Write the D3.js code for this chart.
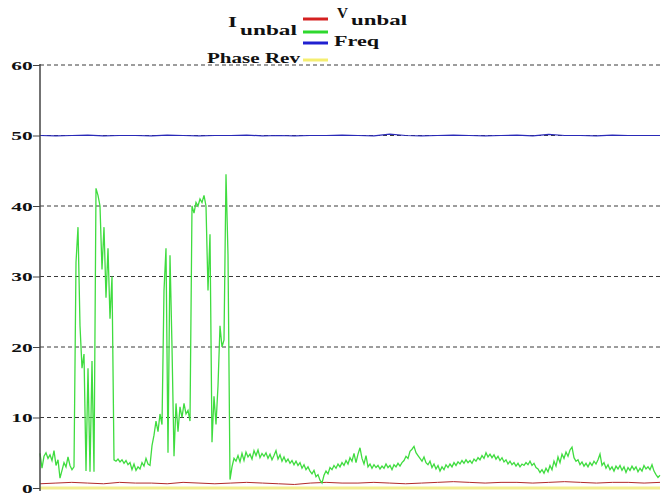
<!DOCTYPE html>
<html>
<head>
<meta charset="utf-8">
<script src="https://cdn.jsdelivr.net/npm/d3@7"></script>
<style>
  body { margin: 0; background: #fff; }
  text { font-family: "Liberation Serif", "DejaVu Serif", serif; font-weight: bold; }
</style>
</head>
<body>
<div id="chart-area"></div>
<script>
// Frequency trace (green), one reading every step
var freq = [
  4.9, 2.8, 4.5, 5.0, 4.2, 4.7, 3.9, 5.3, 3.2, 4.0,
  1.4, 2.5, 3.6, 3.0, 4.4, 3.2, 2.6, 3.0, 32, 37,
  23, 17, 19, 2.4, 17, 2.3, 18, 2.3, 42.5, 41.5,
  40, 31, 37, 27, 34, 24, 30, 4.0, 3.8, 4.1,
  3.7, 4.0, 3.5, 3.9, 3.3, 3.6, 2.6, 3.4, 2.5, 3.0,
  2.7, 3.6, 3.1, 4.2, 3.4, 3.2, 6, 7.5, 9.5, 8,
  10.5, 9, 28, 34, 5, 33, 20, 4.5, 12, 8,
  11.5, 10, 12, 10.5, 11, 9.5, 40, 39, 40.5, 40,
  41, 40.5, 41.5, 40, 28, 36, 6.5, 13, 9, 14.5,
  23, 20, 21, 44.5, 33, 1.2, 3.0, 4.2, 3.8, 4.6,
  3.7, 4.9, 3.9, 5.1, 4.4, 4.8, 4.1, 5.3, 4.6, 5.4,
  4.3, 4.9, 4.5, 5.0, 4.2, 4.8, 4.0, 4.6, 5.3, 4.1,
  4.7, 3.8, 4.4, 3.7, 4.1, 3.5, 3.9, 3.3, 3.8, 3.2,
  3.6, 2.8, 3.3, 2.6, 3.0, 2.4, 2.0, 2.5, 1.6, 1.9,
  1.1, 0.7, 1.8, 2.4, 2.0, 2.9, 2.6, 3.2, 2.8, 3.4,
  3.0, 3.6, 3.2, 3.9, 3.4, 4.3, 3.8, 4.9, 3.6, 4.8,
  5.7, 4.2, 3.4, 4.6, 3.0, 3.4, 2.8, 3.3, 2.9, 3.2,
  2.7, 3.1, 2.8, 3.4, 2.9, 3.2, 2.6, 3.3, 3.0, 3.5,
  3.1, 3.6, 3.9, 4.5, 4.2, 5.2, 5.5, 5.9, 5.0, 4.6,
  4.2, 3.8, 4.4, 3.6, 3.3, 3.8, 2.9, 3.4, 2.7, 3.2,
  2.4, 3.0, 2.6, 3.3, 2.9, 3.4, 3.0, 3.6, 3.2, 3.7,
  3.4, 3.9, 3.5, 4.0, 3.6, 3.9, 3.5, 4.1, 3.8, 4.3,
  4.0, 4.6, 4.2, 5.0, 4.4, 4.8, 4.3, 4.7, 4.1, 4.5,
  3.9, 4.3, 3.7, 4.0, 3.4, 3.8, 3.3, 3.6, 3.1, 3.5,
  3.0, 3.4, 3.2, 3.6, 3.3, 3.8, 3.2, 3.5, 2.9, 2.7,
  2.2, 2.6, 2.1, 2.8, 2.3, 3.2, 2.6, 3.8, 3.1, 4.4,
  3.6, 4.8, 4.2, 5.1, 4.5, 5.4, 5.8, 4.3, 3.8, 4.0,
  3.3, 3.7, 3.1, 3.5, 3.0, 3.6, 3.2, 3.8, 3.4, 4.0,
  4.8, 3.2, 3.6, 2.8, 3.3, 2.6, 3.0, 2.4, 3.1, 2.7,
  3.2, 2.5, 3.0, 2.2, 2.9, 2.5, 3.1, 2.6, 3.0, 2.3,
  2.8, 2.4, 3.2, 2.7, 3.0, 2.6, 3.3, 2.4, 1.9, 1.5, 1.8
];
// Voltage unbalance (blue), around 50
var vunbal = [
  50.0, 49.95, 50.0, 50.05, 49.95, 50.0, 50.0, 49.95, 50.05, 50.0,
  49.95, 50.0, 50.0, 50.05, 49.95, 50.0, 49.95, 50.0, 50.0, 50.05,
  50.0, 49.95, 50.2, 50.0, 49.95, 50.0, 50.05, 50.0, 49.95, 50.0,
  50.05, 49.95, 50.15, 50.0, 50.0, 49.95, 50.05, 50.0, 50.0, 50.0
];
// Current unbalance (red), under 1
var iunbal = [
  0.6, 0.7, 0.8, 0.7, 0.6, 0.8, 0.7, 0.7, 0.6, 0.8,
  0.7, 0.6, 0.7, 0.8, 0.7, 0.6, 0.5, 0.7, 0.8, 0.7,
  0.7, 0.8, 0.7, 0.6, 0.7, 0.8, 0.9, 0.8, 0.7, 0.8,
  0.8, 0.7, 0.8, 0.9, 0.8, 0.7, 0.8, 0.8, 0.7, 0.8
];
// Phase reversal (yellow), always 0
var phaseRev = [0, 0, 0, 0, 0, 0, 0, 0, 0, 0];
var yTicks = [0, 10, 20, 30, 40, 50, 60];

var margin = {top: 65, left: 40, right: 1, bottom: 8};
var width = 661 - margin.left - margin.right;
var height = 496 - margin.top - margin.bottom;

var svg = d3.select('#chart-area')
  .append('svg')
    .attr('width', 661)
    .attr('height', 496);

var g = svg.append('g')
  .attr('transform', 'translate(' + margin.left + ',' + margin.top + ')');

var y = d3.scaleLinear()
  .domain([0, 60])
  .range([height, 0]);

function xFor(arr) {
  return d3.scaleLinear().domain([0, arr.length - 1]).range([0, width]);
}

// grid lines
g.selectAll('.grid')
  .data(yTicks.filter(d => d > 0))
  .enter().append('line')
    .attr('class', 'grid')
    .attr('x1', 0)
    .attr('x2', width)
    .attr('y1', d => y(d))
    .attr('y2', d => y(d))
    .attr('stroke', '#3a3a3a')
    .attr('stroke-width', 1)
    .attr('stroke-dasharray', '4,3');

function drawLine(arr, color, w) {
  var x = xFor(arr);
  var line = d3.line()
    .x((d, i) => x(i))
    .y(d => y(d));
  g.append('path')
    .datum(arr)
    .attr('fill', 'none')
    .attr('stroke', color)
    .attr('stroke-width', w)
    .attr('d', line);
}

drawLine(vunbal, '#2a2ab8', 1.2);
drawLine(iunbal, '#b22a2a', 1);
drawLine(phaseRev, '#f3ee90', 3);
drawLine(freq, '#3fdc3f', 1.3);

// y axis
var yAxis = g.append('g')
  .call(d3.axisLeft(y).tickValues(yTicks).tickSize(7).tickSizeOuter(0));
yAxis.select('.domain')
  .attr('stroke', '#444')
  .attr('stroke-width', 1.5)
  .attr('d', 'M0,-1V' + (height + 3));
yAxis.selectAll('.tick line').attr('stroke', '#444');
yAxis.selectAll('.tick text')
  .attr('x', -4.5)
  .attr('font-size', '13px')
  .attr('font-family', '"Liberation Serif", serif')
  .attr('font-weight', 'bold')
  .attr('fill', '#111')
  .attr('transform', 'scale(1.65,1)');

// legend
var legend = svg.append('g');
var keys = [
  {color: '#d42020', y: 19},
  {color: '#2ed82e', y: 32},
  {color: '#2020d0', y: 43},
  {color: '#f5ee70', y: 60}
];
keys.forEach(function(k) {
  legend.append('line')
    .attr('x1', 303).attr('x2', 328)
    .attr('y1', k.y).attr('y2', k.y)
    .attr('stroke', k.color)
    .attr('stroke-width', 3);
});

var labels = [
  {t: 'I', x: 228, y: 27, s: 15, w: 9},
  {t: 'unbal', x: 240, y: 35, s: 14, w: 57},
  {t: 'V', x: 337, y: 18, s: 14, w: 11},
  {t: 'unbal', x: 351, y: 25, s: 14, w: 56},
  {t: 'Freq', x: 334, y: 46, s: 14, w: 45},
  {t: 'Phase Rev', x: 207, y: 63, s: 14.5, w: 93}
];
labels.forEach(function(l) {
  legend.append('text')
    .attr('x', l.x)
    .attr('y', l.y)
    .attr('font-size', l.s + 'px')
    .attr('fill', '#111')
    .attr('textLength', l.w)
    .attr('lengthAdjust', 'spacingAndGlyphs')
    .text(l.t);
});
</script>
</body>
</html>
